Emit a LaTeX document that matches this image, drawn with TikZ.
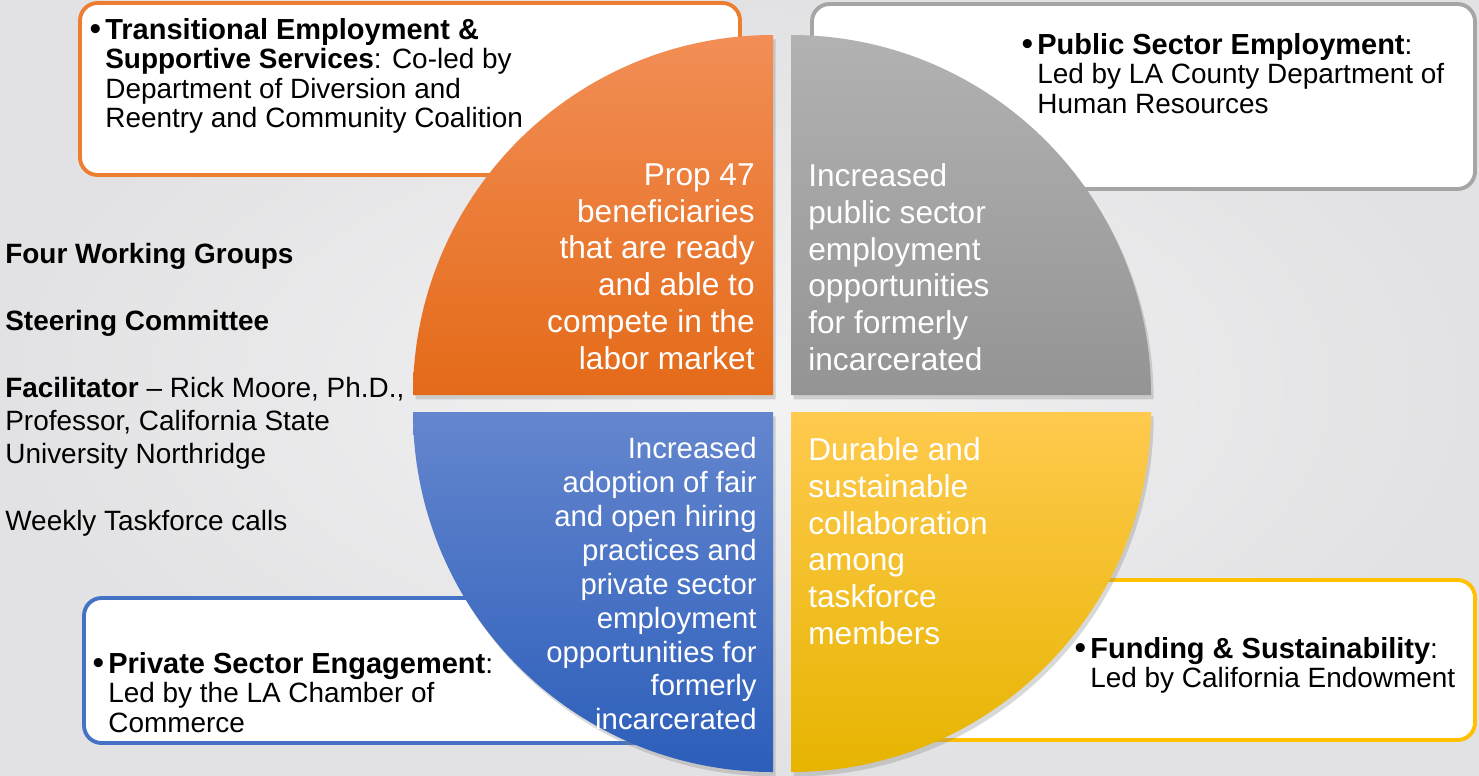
\documentclass[tikz,border=0pt]{standalone}
\usepackage{fontspec}
\setmainfont{Liberation Sans}
\usetikzlibrary{shadows}
\definecolor{grporange}{RGB}{237,125,49}
\definecolor{grpgray}{RGB}{165,165,165}
\definecolor{grpblue}{RGB}{68,114,196}
\definecolor{grpyellow}{RGB}{255,192,0}
\newcommand{\grouphead}[1]{\llap{{\fontsize{18}{16.8}\selectfont\bfseries •}\hspace{2.5pt}}{\fontsize{16.5}{16.8}\selectfont\bfseries #1}}
\begin{document}
\begin{tikzpicture}[x=0.02cm, y=0.02cm,
		groupbox/.style={line width=2.2pt, fill=white, rounded corners=10pt},
		quarter/.style={drop shadow={shadow xshift=1.5pt, shadow yshift=-2.5pt, opacity=0.3}},
		goaltext/.style={inner sep=0pt, text=white, font=\fontsize{18}{21}\selectfont},
		leadtext/.style={inner sep=0pt, align=left, font=\fontsize{15.9}{16.8}\selectfont}]
		\useasboundingbox (0, 0) rectangle (1479, -775);
		\shade[inner color={rgb,255:red,243;green,243;blue,244}, outer color={rgb,255:red,226;green,226;blue,228}] (0, 0) rectangle (1479, -775);
		\draw[groupbox, draw=grporange] (80, -3) rectangle (740, -175);
		\draw[groupbox, draw=grpgray] (812, -4) rectangle (1475, -189);
		\draw[groupbox, draw=grpblue] (84, -598) rectangle (700, -743);
		\draw[groupbox, draw=grpyellow] (850, -580) rectangle (1475, -740);
		\path[quarter, top color={rgb,255:red,242;green,142;blue,86}, bottom color={rgb,255:red,228;green,106;blue,24}] (773, -395) -- (773, -35) arc (90:180:360) -- cycle;
		\path[quarter, top color={rgb,255:red,178;green,178;blue,178}, bottom color={rgb,255:red,148;green,148;blue,148}] (791, -395) -- (791, -35) arc (90:0:360) -- cycle;
		\path[quarter, top color={rgb,255:red,100;green,134;blue,206}, bottom color={rgb,255:red,44;green,94;blue,186}] (773, -412) -- (413, -412) arc (180:270:360) -- cycle;
		\path[quarter, top color={rgb,255:red,255;green,202;blue,78}, middle color={rgb,255:red,255;green,195;blue,0}, bottom color={rgb,255:red,230;green,180;blue,0}] (791, -412) -- (791, -772) arc (270:360:360) -- cycle;
		\node (TE) [leadtext, anchor=north west] at (105, -18) {\grouphead{Transitional Employment \&}\\\textbf{Supportive Services}: Co-led by\\Department of Diversion and\\Reentry and Community Coalition};
		\node (PS) [leadtext, anchor=north west] at (1037, -33) {\grouphead{Public Sector Employment}:\\Led by LA County Department of\\Human Resources};
		\node (PE) [leadtext, anchor=north west] at (108, -652) {\grouphead{Private Sector Engagement}:\\Led by the LA Chamber of\\Commerce};
		\node (FS) [leadtext, anchor=north west] at (1090, -637) {\grouphead{Funding \& Sustainability}:\\Led by California Endowment};
		\node (setup) [leadtext, anchor=north west, font=\fontsize{15.9}{19}\selectfont] at (5, -243) {\textbf{Four Working Groups}\\[19pt]\textbf{Steering Committee}\\[19pt]\textbf{Facilitator} -- Rick Moore, Ph.D.,\\Professor, California State\\University Northridge\\[19pt]Weekly Taskforce calls};
		\node (ready) [goaltext, align=right, anchor=north east] at (755, -163) {Prop 47\\beneficiaries\\that are ready\\and able to\\compete in the\\labor market};
		\node (public) [goaltext, align=left, anchor=north west] at (808, -163) {Increased\\public sector\\employment\\opportunities\\for formerly\\incarcerated};
		\node (fair) [goaltext, align=right, anchor=north east, font=\fontsize{16.7}{19.3}\selectfont] at (757, -437) {Increased\\adoption of fair\\and open hiring\\practices and\\private sector\\employment\\opportunities for\\formerly\\incarcerated};
		\node (durable) [goaltext, align=left, anchor=north west] at (808, -437) {Durable and\\sustainable\\collaboration\\among\\taskforce\\members};
	\end{tikzpicture}
\end{document}
